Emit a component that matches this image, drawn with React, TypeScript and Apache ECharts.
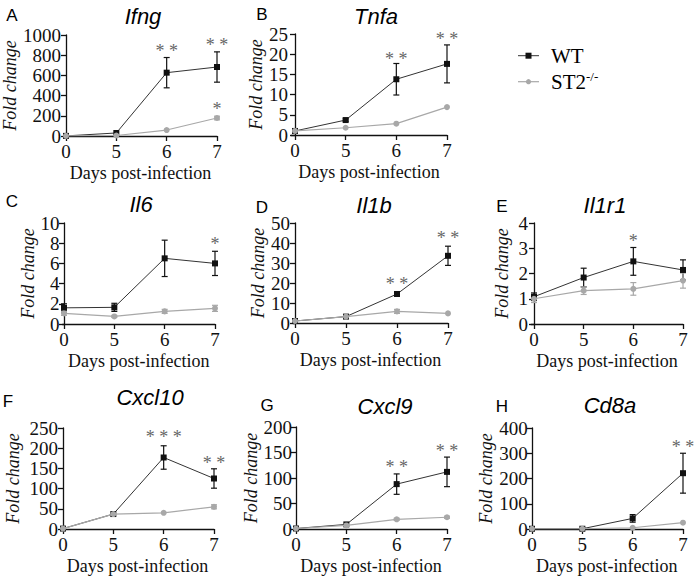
import React, { useEffect, useRef } from 'react';
import * as echarts from 'echarts';

// ---------- data ----------
const days = ['0', '5', '6', '7'];
const genes = ['Ifng', 'Tnfa', 'Il6', 'Il1b', 'Il1r1', 'Cxcl10', 'Cxcl9', 'Cd8a'];
const panelLetters = ['A', 'B', 'C', 'D', 'E', 'F', 'G', 'H'];
const seriesNames = ['WT', 'ST2-/-'];

const ifngWT = [1, 30, 627, 683];
const ifngWTErr = [0, 5, 150, 150];
const ifngKO = [1, 5, 59, 178];
const ifngKOErr = [0, 2, 8, 18];

const tnfaWT = [1, 3.7, 13.8, 17.6];
const tnfaWTErr = [0.1, 0.3, 3.9, 4.7];
const tnfaKO = [1, 1.8, 2.8, 6.9];
const tnfaKOErr = [0.1, 0.1, 0.2, 0.2];

const il6WT = [1.6, 1.65, 6.5, 6.0];
const il6WTErr = [0.4, 0.4, 1.8, 1.2];
const il6KO = [1.05, 0.75, 1.25, 1.55];
const il6KOErr = [0.2, 0.1, 0.2, 0.3];

const il1bWT = [1, 3.2, 14.5, 33.6];
const il1bWTErr = [0.3, 0.5, 1, 4.8];
const il1bKO = [1, 3.2, 5.8, 4.8];
const il1bKOErr = [0.2, 0.3, 1, 0.3];

const il1r1WT = [1.08, 1.84, 2.48, 2.14];
const il1r1WTErr = [0.15, 0.37, 0.55, 0.4];
const il1r1KO = [1.0, 1.32, 1.39, 1.72];
const il1r1KOErr = [0.15, 0.15, 0.25, 0.3];

const cxcl10WT = [1, 37, 177, 125];
const cxcl10WTErr = [0, 2, 29, 24];
const cxcl10KO = [1, 37, 40, 55];
const cxcl10KOErr = [0, 2, 2, 5];

const cxcl9WT = [1, 9, 88, 112];
const cxcl9WTErr = [0, 1, 20, 29];
const cxcl9KO = [1, 7, 19, 23];
const cxcl9KOErr = [0, 1, 2, 2];

const cd8aWT = [1, 1, 42, 221];
const cd8aWTErr = [0, 0, 15, 79];
const cd8aKO = [1, 1, 5, 25];
const cd8aKOErr = [0, 0, 2, 3];

const yMax = [1000, 25, 10, 50, 4, 250, 200, 400];
const yStep = [200, 5, 2, 10, 1, 50, 50, 100];

// significance marks: [day index, height, label]
const ifngStars: [number, number, string][] = [[2, 884, '* *'], [3, 940, '* *'], [3, 307, '*']];
const tnfaStars: [number, number, string][] = [[2, 19.8, '* *'], [3, 24.75, '* *']];
const il6Stars: [number, number, string][] = [[3, 8.3, '*']];
const il1bStars: [number, number, string][] = [[2, 21.5, '* *'], [3, 44.5, '* *']];
const il1r1Stars: [number, number, string][] = [[2, 3.45, '*']];
const cxcl10Stars: [number, number, string][] = [[2, 237.6, '* * *'], [3, 173, '* *']];
const cxcl9Stars: [number, number, string][] = [[2, 129, '* *'], [3, 161, '* *']];
const cd8aStars: [number, number, string][] = [[3, 340, '* *']];

const wtMeans = [ifngWT, tnfaWT, il6WT, il1bWT, il1r1WT, cxcl10WT, cxcl9WT, cd8aWT];
const wtErrs = [ifngWTErr, tnfaWTErr, il6WTErr, il1bWTErr, il1r1WTErr, cxcl10WTErr, cxcl9WTErr, cd8aWTErr];
const koMeans = [ifngKO, tnfaKO, il6KO, il1bKO, il1r1KO, cxcl10KO, cxcl9KO, cd8aKO];
const koErrs = [ifngKOErr, tnfaKOErr, il6KOErr, il1bKOErr, il1r1KOErr, cxcl10KOErr, cxcl9KOErr, cd8aKOErr];
const starSets = [ifngStars, tnfaStars, il6Stars, il1bStars, il1r1Stars, cxcl10Stars, cxcl9Stars, cd8aStars];

// ---------- layout ----------
type Layout = { axisX: number; x0: number; x7: number; top: number; bottom: number; nameGap: number; titleX: number; titleY: number; letterX: number; letterY: number };
const layouts: Layout[] = [
  { axisX: 64, x0: 66, x7: 217, top: 35, bottom: 136, nameGap: 43, titleX: 143, titleY: 16, letterX: 12, letterY: 15 },
  { axisX: 291, x0: 295, x7: 447, top: 34, bottom: 135, nameGap: 25, titleX: 376, titleY: 16, letterX: 262, letterY: 14 },
  { axisX: 62.5, x0: 64, x7: 215, top: 223, bottom: 324, nameGap: 25.5, titleX: 141, titleY: 204, letterX: 12, letterY: 201 },
  { axisX: 293, x0: 295, x7: 448, top: 223, bottom: 323, nameGap: 26, titleX: 374, titleY: 205, letterX: 262, letterY: 207 },
  { axisX: 531, x0: 534, x7: 683, top: 223, bottom: 324, nameGap: 20, titleX: 605, titleY: 205, letterX: 502, letterY: 206 },
  { axisX: 61, x0: 63, x7: 214, top: 428, bottom: 529, nameGap: 39.5, titleX: 150, titleY: 397, letterX: 8, letterY: 401 },
  { axisX: 295, x0: 296, x7: 447, top: 427, bottom: 529, nameGap: 29, titleX: 385, titleY: 406, letterX: 267, letterY: 405 },
  { axisX: 530.7, x0: 532, x7: 683, top: 428, bottom: 529, nameGap: 30, titleX: 610, titleY: 405, letterX: 502, letterY: 406 },
];

const SERIF = 'Liberation Serif';
const SANS = 'Liberation Sans';
const WT_COLOR = '#111111';
const KO_COLOR = '#a8a8a8';

function errorBars(i: number, means: number[], errs: number[], color: string) {
  return {
    type: 'custom',
    xAxisIndex: i,
    yAxisIndex: i,
    z: 2,
    silent: true,
    data: means.map((m, k) => [k, m - errs[k], m + errs[k]]),
    renderItem: (_p: any, api: any) => {
      const x = api.value(0);
      const lo = api.coord([x, api.value(1)]);
      const hi = api.coord([x, api.value(2)]);
      if (Math.abs(hi[1] - lo[1]) < 2) return null;
      const hw = 3;
      const st = { stroke: color, lineWidth: 1.2 };
      return {
        type: 'group',
        children: [
          { type: 'line', shape: { x1: lo[0], y1: lo[1], x2: hi[0], y2: hi[1] }, style: st },
          { type: 'line', shape: { x1: hi[0] - hw, y1: hi[1], x2: hi[0] + hw, y2: hi[1] }, style: st },
          { type: 'line', shape: { x1: lo[0] - hw, y1: lo[1], x2: lo[0] + hw, y2: lo[1] }, style: st },
        ],
      };
    },
  };
}

function starSeries(i: number, stars: [number, number, string][]) {
  return {
    type: 'custom',
    xAxisIndex: i,
    yAxisIndex: i,
    z: 5,
    silent: true,
    data: stars.map((s) => [s[0], s[1]]),
    renderItem: (p: any, api: any) => {
      const c = api.coord([api.value(0), api.value(1)]);
      return {
        type: 'text',
        x: c[0],
        y: c[1] + 4,
        style: {
          text: stars[p.dataIndex][2],
          fontFamily: SERIF,
          fontSize: 18,
          fill: '#666666',
          align: 'center',
          verticalAlign: 'middle',
        },
      };
    },
  };
}

export default function App() {
  const ref = useRef<HTMLDivElement>(null);

  useEffect(() => {
    if (!ref.current) return;
    const chart = echarts.init(ref.current, undefined, { renderer: 'svg' });

    const grids: any[] = [];
    const xAxes: any[] = [];
    const yAxes: any[] = [];
    const series: any[] = [];
    const graphics: any[] = [];

    layouts.forEach((L, i) => {
      const unit = (L.x7 - L.x0) / 3;
      const xmin = -(L.x0 - L.axisX) / unit;
      grids.push({ left: L.axisX, top: L.top, width: L.x7 - L.axisX, height: L.bottom - L.top, containLabel: false });
      xAxes.push({
        type: 'value',
        gridIndex: i,
        min: xmin,
        max: 3,
        name: 'Days post-infection',
        nameLocation: 'middle',
        nameGap: 28,
        nameTextStyle: { fontFamily: SERIF, fontSize: 18, color: '#111' },
        axisLine: { lineStyle: { color: '#111', width: 1.3 } },
        axisTick: { show: true, length: 5, customValues: [0, 1, 2, 3], lineStyle: { color: '#111', width: 1.3 } },
        axisLabel: {
          customValues: [0, 1, 2, 3],
          formatter: (v: number) => days[Math.round(v)] ?? '',
          fontFamily: SERIF,
          fontSize: 19,
          color: '#111',
          margin: 6,
        },
        splitLine: { show: false },
      });
      yAxes.push({
        type: 'value',
        gridIndex: i,
        min: 0,
        max: yMax[i],
        interval: yStep[i],
        name: 'Fold change',
        nameLocation: 'middle',
        nameRotate: 90,
        nameGap: L.nameGap,
        nameTextStyle: { fontFamily: SERIF, fontSize: 18, fontStyle: 'italic', color: '#111' },
        axisLine: { show: true, lineStyle: { color: '#111', width: 1.3 } },
        axisTick: { show: true, length: 5, lineStyle: { color: '#111', width: 1.3 } },
        axisLabel: { fontFamily: SERIF, fontSize: 19, color: '#111', margin: 3, formatter: (v: number) => String(v) },
        splitLine: { show: false },
      });

      series.push(errorBars(i, wtMeans[i], wtErrs[i], WT_COLOR));
      series.push({
        type: 'line',
        name: seriesNames[0],
        xAxisIndex: i,
        yAxisIndex: i,
        z: 3,
        data: wtMeans[i].map((v, k) => [k, v]),
        symbol: 'rect',
        symbolSize: 6,
        itemStyle: { color: WT_COLOR },
        lineStyle: { color: '#333333', width: 1 },
      });
      series.push(errorBars(i, koMeans[i], koErrs[i], KO_COLOR));
      series.push({
        type: 'line',
        name: seriesNames[1],
        xAxisIndex: i,
        yAxisIndex: i,
        z: 4,
        data: koMeans[i].map((v, k) => [k, v]),
        symbol: 'circle',
        symbolSize: 6,
        itemStyle: { color: KO_COLOR },
        lineStyle: { color: KO_COLOR, width: 1.2 },
      });
      series.push(starSeries(i, starSets[i]));

      graphics.push({
        type: 'text',
        x: L.titleX,
        y: L.titleY,
        style: { text: genes[i], fontFamily: SANS, fontStyle: 'italic', fontSize: 22, fill: '#000', align: 'center', verticalAlign: 'middle' },
      });
      graphics.push({
        type: 'text',
        x: L.letterX,
        y: L.letterY,
        style: { text: panelLetters[i], fontFamily: SANS, fontSize: 17, fill: '#000', align: 'center', verticalAlign: 'middle' },
      });
    });

    // legend
    graphics.push({ type: 'line', shape: { x1: 518, y1: 55.7, x2: 539, y2: 55.7 }, style: { stroke: '#333', lineWidth: 1 } });
    graphics.push({ type: 'rect', shape: { x: 525.5, y: 52.7, width: 6, height: 6 }, style: { fill: WT_COLOR } });
    graphics.push({ type: 'line', shape: { x1: 518, y1: 81.7, x2: 539, y2: 81.7 }, style: { stroke: KO_COLOR, lineWidth: 1.2 } });
    graphics.push({ type: 'circle', shape: { cx: 528.5, cy: 81.7, r: 2.6 }, style: { fill: KO_COLOR } });
    graphics.push({
      type: 'text',
      x: 551,
      y: 56,
      style: { text: seriesNames[0], fontFamily: SERIF, fontSize: 21, fill: '#000', align: 'left', verticalAlign: 'middle' },
    });
    graphics.push({
      type: 'text',
      x: 551,
      y: 82,
      style: {
        text: '{base|ST2}{sup|-/-}',
        fill: '#000',
        align: 'left',
        verticalAlign: 'middle',
        rich: {
          base: { fontFamily: SERIF, fontSize: 21, fill: '#000', lineHeight: 24 },
          sup: { fontFamily: SERIF, fontSize: 13, verticalAlign: 'top', fill: '#000', lineHeight: 24, padding: [0, 0, 10, 0] },
        },
      },
    });

    chart.setOption({
      animation: false,
      backgroundColor: '#ffffff',
      grid: grids,
      xAxis: xAxes,
      yAxis: yAxes,
      series,
      graphic: graphics,
    });

    return () => chart.dispose();
  }, []);

  return <div ref={ref} style={{ position: 'absolute', left: 0, top: 0, width: 700, height: 580 }} />;
}
